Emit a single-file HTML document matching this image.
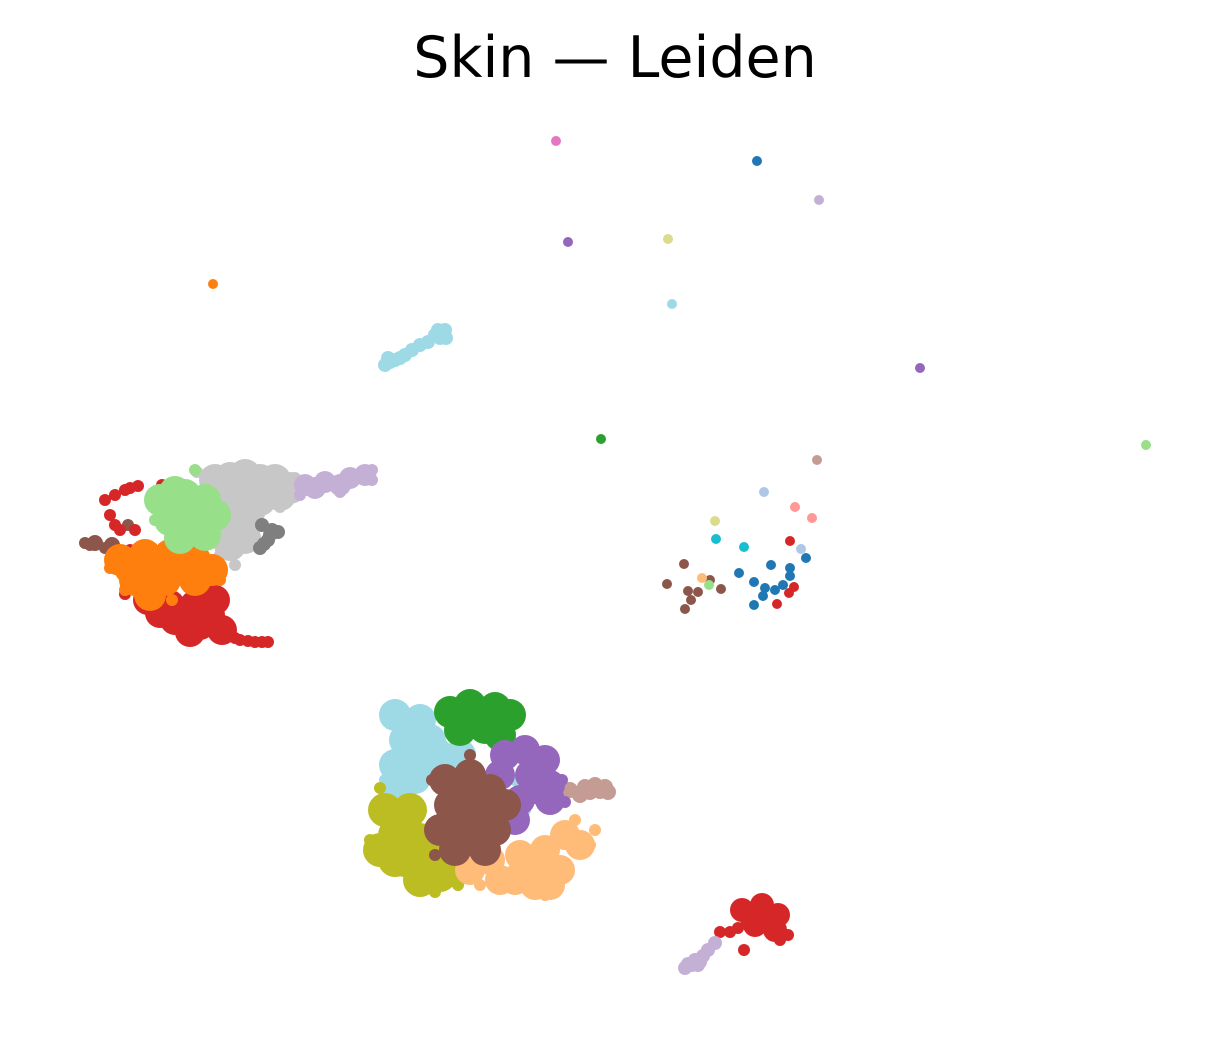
<!DOCTYPE html>
<html><head><meta charset="utf-8">
<style>
html,body{margin:0;padding:0;background:#fff;}
svg{display:block;}
</style></head>
<body>
<svg id="chart" width="1230" height="1042" viewBox="0 0 1230 1042" xmlns="http://www.w3.org/2000/svg">
<rect x="0" y="0" width="1230" height="1042" fill="#fff"/>
<text x="615" y="77" text-anchor="middle" font-family="DejaVu Sans, Liberation Sans, sans-serif" font-size="57" fill="#000">Skin — Leiden</text>
<g id="points"></g>
</svg>
<script>
// UMAP coordinates (arbitrary units). Each cluster: dense core points and sparse edge points.
const lgreyCore = [[2.15,5.20],[2.45,5.25],[2.75,5.20],[2.90,5.12],[2.30,5.00],[2.60,5.00],[2.40,4.75],[2.30,4.55],[2.50,4.90],[2.60,5.20],[2.80,5.05],[2.30,5.22],[2.45,5.05],[2.35,4.88],[2.20,4.70],[2.45,4.62]];
const lgreyEdge = [[1.97,5.28],[3.00,5.10],[2.80,4.93],[2.20,4.45],[2.35,4.35],[2.95,5.22]];
const lpurpleCore = [[3.05,5.15],[3.25,5.18],[3.50,5.22],[3.65,5.25],[3.40,5.15],[3.15,5.12]];
const lpurpleEdge = [[3.00,5.05],[3.72,5.30],[3.40,5.08],[3.72,5.20]];
const lgreenCore = [[1.60,5.00],[1.85,5.05],[2.05,5.00],[1.70,4.80],[1.95,4.80],[2.15,4.85],[1.80,4.62],[2.05,4.65],[1.75,5.08],[1.95,4.95],[1.72,4.95],[1.90,4.70]];
const lgreenEdge = [[1.95,5.30],[1.55,4.80]];
const orangeCore = [[1.20,4.40],[1.45,4.45],[1.70,4.45],[1.95,4.40],[2.12,4.30],[1.35,4.20],[1.65,4.20],[1.95,4.20],[1.50,4.05],[1.30,4.32],[1.58,4.32],[1.83,4.30],[1.80,4.45]];
const orangeEdge = [[1.10,4.32],[2.20,4.20],[1.25,4.10],[1.72,4.00]];
const redCore = [[1.48,4.00],[1.70,3.95],[1.95,3.95],[2.15,4.00],[1.75,3.80],[2.00,3.75],[2.22,3.70],[1.60,3.87],[1.85,3.88],[2.10,3.85],[1.90,3.68]];
const redEdge = [[1.05,5.00],[1.25,5.10],[1.38,5.14],[1.62,5.15],[1.10,4.85],[1.20,4.70],[1.30,4.50],[1.35,4.70],[2.40,3.60],[2.55,3.58],[2.68,3.58],[2.30,3.65],[1.25,4.06],[2.15,4.35],[1.15,5.05],[1.30,5.12],[1.15,4.75],[2.48,3.59],[2.62,3.58],[2.35,3.62]];
const brownCore = [[0.95,4.57],[1.12,4.55]];
const brownEdge = [[0.85,4.57],[1.28,4.75],[1.18,4.42],[1.05,4.52],[0.90,4.55]];
const greyEdge = [[2.62,4.75],[2.72,4.70],[2.68,4.60],[2.60,4.52],[2.78,4.68],[2.70,4.65],[2.64,4.56]];
const lcyanTopEdge = [[3.85,6.35],[3.95,6.40],[4.05,6.45],[4.20,6.55],[4.35,6.65],[4.45,6.70],[4.40,6.62],[3.90,6.38],[4.12,6.50],[4.28,6.58],[4.46,6.62],[3.88,6.42],[4.00,6.42],[4.38,6.70]];
const lcyanCore = [[3.95,2.85],[4.20,2.80],[4.05,2.60],[4.30,2.60],[3.95,2.35],[4.20,2.35],[4.45,2.40],[4.00,2.15],[4.60,2.45],[4.10,2.70],[4.35,2.48],[4.15,2.22],[4.55,2.30]];
const lcyanEdge = [[3.90,2.93],[4.40,2.88],[3.85,2.20],[5.15,2.20],[5.25,1.90],[4.50,2.05],[3.88,2.05]];
const greenCore = [[4.50,2.88],[4.70,2.95],[4.95,2.92],[5.10,2.85],[4.60,2.70],[4.85,2.72],[5.00,2.65],[4.80,2.85],[4.65,2.80]];
const greenEdge = [[4.75,2.30]];
const purpleCore = [[5.05,2.45],[5.25,2.50],[5.45,2.40],[5.00,2.25],[5.30,2.25],[5.50,2.15],[5.20,2.00],[5.50,2.00],[5.15,1.80],[5.35,2.35],[5.40,2.10]];
const purpleEdge = [[5.62,2.20],[5.65,1.98],[4.95,2.10]];
const lbrownEdge = [[5.70,2.10],[5.85,2.13],[5.95,2.15],[6.05,2.13],[5.80,2.05],[6.08,2.08],[5.90,2.08],[6.00,2.09]];
const oliveCore = [[3.85,1.90],[3.95,1.65],[3.80,1.50],[4.05,1.40],[4.20,1.20],[4.40,1.25],[4.10,1.90],[4.55,1.30],[4.20,1.60],[3.95,1.40],[4.05,1.75],[4.30,1.40]];
const oliveEdge = [[3.70,1.60],[3.80,2.12],[4.35,1.08],[4.58,1.15],[3.72,1.45]];
const lorangeCore = [[4.70,1.30],[5.00,1.20],[5.30,1.30],[5.45,1.50],[5.65,1.65],[5.80,1.55],[5.50,1.15],[5.60,1.30],[5.20,1.45],[4.90,1.40],[5.35,1.15],[5.15,1.20],[5.45,1.35]];
const lorangeEdge = [[5.90,1.55],[5.75,1.80],[5.45,1.05],[4.80,1.15],[5.95,1.70]];
const brownBCore = [[4.45,2.20],[4.70,2.25],[4.90,2.10],[4.50,1.95],[4.80,1.90],[5.05,1.95],[4.40,1.70],[4.70,1.65],[4.95,1.70],[4.55,1.50],[4.85,1.50],[4.65,2.05],[4.60,1.80]];
const brownBEdge = [[4.32,2.20],[4.35,1.45],[4.88,1.45],[4.40,1.72],[4.70,2.45],[4.45,2.28]];
const redBCore = [[7.42,0.90],[7.62,0.95],[7.78,0.85],[7.55,0.75],[7.75,0.70],[7.50,0.85],[7.68,0.80]];
const redBEdge = [[7.20,0.68],[7.30,0.68],[7.80,0.60],[7.44,0.50],[7.88,0.65],[7.60,0.98],[7.38,0.72]];
const lpurpleBEdge = [[6.85,0.32],[6.92,0.35],[7.00,0.38],[7.08,0.50],[7.15,0.57],[6.95,0.40],[7.03,0.44],[6.88,0.36],[6.98,0.35]];
const singles = [
  ["#e377c2",5.56,8.59],["#1f77b4",7.57,8.39],["#c5b0d5",8.19,8.00],["#9467bd",5.68,7.58],
  ["#dbdb8d",6.68,7.61],["#ff7f0e",2.13,7.16],["#9edae5",6.72,6.96],["#9467bd",9.20,6.32],
  ["#2ca02c",6.01,5.61],["#98df8a",11.46,5.55],["#c49c94",8.17,5.40],
  ["#aec7e8",7.64,5.08],["#ff9896",7.95,4.93],["#ff9896",8.12,4.82],["#dbdb8d",7.15,4.79],
  ["#17becf",7.16,4.61],["#17becf",7.44,4.53],["#d62728",7.90,4.59],["#aec7e8",8.01,4.51],
  ["#1f77b4",8.06,4.42],["#1f77b4",7.71,4.35],["#1f77b4",7.90,4.32],["#1f77b4",7.90,4.24],
  ["#1f77b4",7.39,4.27],["#1f77b4",7.54,4.18],["#1f77b4",7.65,4.12],["#1f77b4",7.75,4.10],
  ["#1f77b4",7.83,4.15],["#1f77b4",7.63,4.04],["#1f77b4",7.54,3.95],
  ["#d62728",7.94,4.13],["#d62728",7.89,4.07],["#d62728",7.77,3.96],
  ["#8c564b",6.84,4.36],["#8c564b",6.67,4.16],["#8c564b",6.88,4.09],["#8c564b",6.98,4.08],
  ["#8c564b",7.10,4.20],["#8c564b",7.21,4.11],["#8c564b",6.91,4.00],["#8c564b",6.85,3.91],
  ["#ffbb78",7.02,4.22],["#98df8a",7.09,4.15]
];
const clusterColors = {
  lgrey:"#c7c7c7", lpurple:"#c5b0d5", lgreen:"#98df8a", orange:"#ff7f0e", red:"#d62728",
  brown:"#8c564b", grey:"#7f7f7f", lcyan:"#9edae5", green:"#2ca02c", purple:"#9467bd",
  lbrown:"#c49c94", olive:"#bcbd22", lorange:"#ffbb78"
};

function xScale(v){ return v * 100; }
function yScale(v){ return 1000 - v * 100; }

const layer = document.getElementById('points');
const NS = "http://www.w3.org/2000/svg";
function dot(x, y, r, color, name){
  const c = document.createElementNS(NS, 'circle');
  c.setAttribute('cx', xScale(x).toFixed(1));
  c.setAttribute('cy', yScale(y).toFixed(1));
  c.setAttribute('r', r);
  c.setAttribute('fill', color);
  
  
  layer.appendChild(c);
}
function cluster(core, edge, color, name, coreR, edgeR){
  core.forEach(p => dot(p[0], p[1], coreR, color, name + '-point'));
  edge.forEach(p => dot(p[0], p[1], edgeR, color, name + '-point'));
}
// Draw order (later on top)
cluster(lgreyCore, lgreyEdge, clusterColors.lgrey, 'cluster-lightgrey', 16, 6);
cluster(lpurpleCore, lpurpleEdge, clusterColors.lpurple, 'cluster-lightpurple', 11, 6);
cluster(brownCore, brownEdge, clusterColors.brown, 'cluster-brown-top', 8, 6);
cluster([], greyEdge, clusterColors.grey, 'cluster-grey', 7, 7);
cluster(redCore, redEdge, clusterColors.red, 'cluster-red-top', 15, 6);
cluster(orangeCore, orangeEdge, clusterColors.orange, 'cluster-orange', 16, 6);
cluster(lgreenCore, lgreenEdge, clusterColors.lgreen, 'cluster-lightgreen', 16, 6);
cluster([], lcyanTopEdge, clusterColors.lcyan, 'cluster-lightcyan-top', 7, 7);
cluster([], lbrownEdge, clusterColors.lbrown, 'cluster-lightbrown', 8, 8);
cluster(lcyanCore, lcyanEdge, clusterColors.lcyan, 'cluster-lightcyan', 16, 6);
cluster(greenCore, greenEdge, clusterColors.green, 'cluster-green', 16, 6);
cluster(purpleCore, purpleEdge, clusterColors.purple, 'cluster-purple', 15, 6);
cluster(oliveCore, oliveEdge, clusterColors.olive, 'cluster-olive', 17, 6);
cluster(lorangeCore, lorangeEdge, clusterColors.lorange, 'cluster-lightorange', 15, 6);
cluster(brownBCore, brownBEdge, clusterColors.brown, 'cluster-brown', 16, 6);
cluster(redBCore, redBEdge, clusterColors.red, 'cluster-red-bottom', 12, 6);
cluster([], lpurpleBEdge, clusterColors.lpurple, 'cluster-lightpurple-bottom', 7, 7);
singles.forEach(s => dot(s[1], s[2], 5, s[0], 'single-point'));
</script>
</body></html>
